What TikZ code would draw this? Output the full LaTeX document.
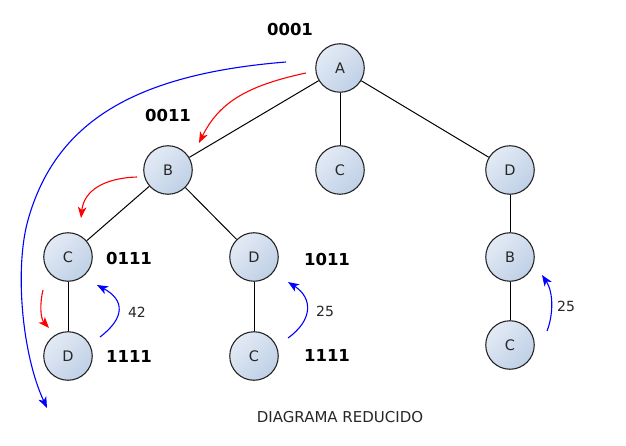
\documentclass[tikz,border=0pt]{standalone}
\usepackage{fontspec}
\setmainfont{DejaVu Sans}
\usetikzlibrary{arrows.meta}

\definecolor{nodelight}{HTML}{E3EAF5}
\definecolor{nodedark}{HTML}{BFD0E6}
\definecolor{rim}{HTML}{262626}
\definecolor{flowblue}{HTML}{0000FF}
\definecolor{flowred}{HTML}{FF0000}

\tikzset{
  vertex/.style={circle, draw=rim, line width=1.1pt, minimum size=48.5pt,
    inner sep=0pt, top color=nodelight, bottom color=nodedark, shading angle=45,
    font=\fontsize{14.5}{16}\selectfont, text=black!85},
  treeedge/.style={line width=1pt, black},
  code/.style={inner sep=0pt, font=\fontsize{16.5}{18}\bfseries\selectfont},
  weight/.style={inner sep=0pt, font=\fontsize{14}{16}\selectfont, text=black!85},
  caption/.style={inner sep=0pt, font=\fontsize{15}{17}\selectfont, text=black!85},
  bluearrow/.style={flowblue, line width=1.1pt,
    -{Stealth[length=11pt,width=8.5pt,inset=3pt]}},
  redarrow/.style={flowred, line width=1.1pt,
    -{Stealth[length=11pt,width=8.5pt,inset=3pt]}},
}

\begin{document}
\begin{tikzpicture}[x=1pt,y=-1pt]
\useasboundingbox (0,0) rectangle (626,446);

% tree nodes
\node[vertex] (A)  at (340,68)  {A};
\node[vertex] (B)  at (168,170) {B};
\node[vertex] (C1) at (340,170) {C};
\node[vertex] (D1) at (510,170) {D};
\node[vertex] (C2) at (68,257)  {C};
\node[vertex] (D2) at (254,257) {D};
\node[vertex] (B2) at (510,257) {B};
\node[vertex] (D3) at (68,356)  {D};
\node[vertex] (C3) at (254,356) {C};
\node[vertex] (C4) at (510,345) {C};

% tree edges
\draw[treeedge] (A) -- (B);
\draw[treeedge] (A) -- (C1);
\draw[treeedge] (A) -- (D1);
\draw[treeedge] (B) -- (C2);
\draw[treeedge] (B) -- (D2);
\draw[treeedge] (C2) -- (D3);
\draw[treeedge] (D2) -- (C3);
\draw[treeedge] (D1) -- (B2);
\draw[treeedge] (B2) -- (C4);

% bit codes
\node[code] (kA)  at (290,29)  {0001};
\node[code] (kB)  at (168,115) {0011};
\node[code] (kC2) at (129,258) {0111};
\node[code] (kD3) at (129,356) {1111};
\node[code] (kD2) at (327,259) {1011};
\node[code] (kC3) at (327,355) {1111};

% weights
\node[weight] (w1) at (137,312) {42};
\node[weight] (w2) at (325,311) {25};
\node[weight] (w3) at (566,306) {25};

\node[caption] (cap) at (340,417) {DIAGRAMA REDUCIDO};

% descending traversal (red)
\coordinate (r1s) at (306,73);  \coordinate (r1e) at (199,143);
\coordinate (r2s) at (137,177); \coordinate (r2e) at (81,218);
\coordinate (r3s) at (43,290);  \coordinate (r3e) at (49,328);
\draw[redarrow] (r1s) .. controls (247,85.6) and (219,102.5) .. (r1e);
\draw[redarrow] (r2s) .. controls (105,178) and (84,190) .. (r2e);
\draw[redarrow] (r3s) .. controls (40,302) and (40,318) .. (r3e);

% returns (blue)
\coordinate (b1s) at (100,337); \coordinate (b1e) at (97,285);
\coordinate (b2s) at (288,338); \coordinate (b2e) at (288,282);
\coordinate (b3s) at (547,331); \coordinate (b3e) at (542,275);
\draw[bluearrow] (b1s) .. controls (125,318) and (125,300) .. (b1e);
\draw[bluearrow] (b2s) .. controls (313,320) and (313,298) .. (b2e);
\draw[bluearrow] (b3s) .. controls (553,316) and (554,293) .. (b3e);

% outer sweep
\coordinate (bs) at (286,62);
\coordinate (bm) at (28,220);
\coordinate (be) at (47,408);
\draw[bluearrow] (bs) .. controls (131.5,74.4) and (55,124) .. (bm)
  .. controls (14.5,268) and (21.8,354) .. (be);
\end{tikzpicture}
\end{document}
